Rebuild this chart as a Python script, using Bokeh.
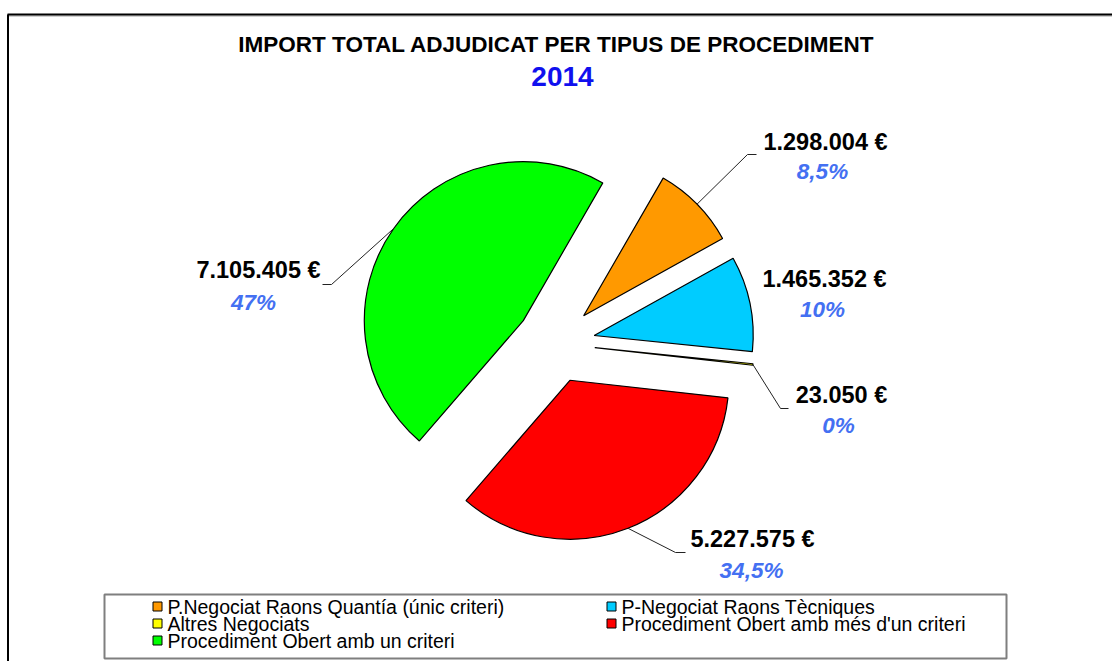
import numpy as np
from bokeh.plotting import figure
from bokeh.models import Range1d
from bokeh.core.properties import value
from bokeh.embed import file_html
from bokeh.resources import INLINE

# ---------------- data ----------------
categories = [
    "P.Negociat Raons Quantía (únic criteri)",
    "P-Negociat Raons Tècniques",
    "Altres Negociats",
    "Procediment Obert amb més d'un criteri",
    "Procediment Obert amb un criteri",
]
amounts = [1298004, 1465352, 23050, 5227575, 7105405]
amount_labels = ["1.298.004 €", "1.465.352 €", "23.050 €", "5.227.575 €", "7.105.405 €"]
pct_labels = ["8,5%", "10%", "0%", "34,5%", "47%"]
title_text = "IMPORT TOTAL ADJUDICAT PER TIPUS DE PROCEDIMENT"
year_text = "2014"

# ---------------- styles / layout ----------------
colors = ["#FF9900", "#00CCFF", "#FFFF00", "#FF0000", "#00FF00"]
FONT = "Liberation Sans"
PCT_BLUE = "#4470F2"
W, H = 1112, 661
CX, CY = 555.0, -343.0          # pie centre (screen y negated)
R = 159.0                       # radius in px
EXPLODE = 39.5                  # explosion distance
FIRST_ANGLE = 60.0              # start of first slice (deg, math convention)

# label centres (screen coords): amount text, percentage text
amt_pos = [(825, 141), (824, 278), (841, 394), (752, 538), (258, 269)]
pct_pos = [(822, 171), (822, 309), (838, 425), (751, 570), (253, 302)]
# leader elbows (screen coords) -> (elbow, end); None = no leader
leaders = [((747, 154), (756, 154)), None, ((780, 408), (788, 408)),
           ((675, 552), (685, 552)), ((331, 284), (322, 284))]

p = figure(width=W, height=H, x_range=Range1d(0, W), y_range=Range1d(-H, 0),
           output_backend="svg", toolbar_location=None, min_border=0,
           x_axis_type=None, y_axis_type=None)
p.grid.visible = False
p.outline_line_color = None
p.background_fill_color = "white"

# outer chart frame (top + left edges visible)
p.line(x=[7, W], y=[-15.5, -15.5], line_color="#A0A0A0", line_width=1)
p.line(x=[7, W], y=[-14, -14], line_color="black", line_width=2)
p.line(x=[7.5, 7.5], y=[-14, -H], line_color="black", line_width=2)

# ---------------- pie ----------------
vals = np.array(amounts, dtype=float)
frac = vals / vals.sum()
cum = np.concatenate([[0], np.cumsum(frac)[:-1]])
start_deg = FIRST_ANGLE - cum * 360.0          # clockwise
end_deg = start_deg - frac * 360.0
mid_deg = (start_deg + end_deg) / 2.0
mid = np.radians(mid_deg)
ax = CX + EXPLODE * np.cos(mid)
ay = CY + EXPLODE * np.sin(mid)

p.wedge(x=ax, y=ay, radius=R, start_angle=np.radians(end_deg), end_angle=np.radians(start_deg),
        fill_color=colors, line_color="black", line_width=1.2)

# leaders
for i, ld in enumerate(leaders):
    if ld is None:
        continue
    sx = ax[i] + R * np.cos(mid[i])
    sy = ay[i] + R * np.sin(mid[i])
    (ex, ey), (fx, fy) = ld
    p.line(x=[sx, ex, fx], y=[sy, -ey, -fy], line_color="#222222", line_width=1)

# labels
p.text(x=[q[0] for q in amt_pos], y=[-q[1] for q in amt_pos], text=amount_labels,
       text_font=value(FONT), text_font_size="23.5px", text_font_style="bold",
       text_color="black", text_align="center", text_baseline="middle")
p.text(x=[q[0] for q in pct_pos], y=[-q[1] for q in pct_pos], text=pct_labels,
       text_font=value(FONT), text_font_size="22.5px", text_font_style="bold italic",
       text_color=PCT_BLUE, text_align="center", text_baseline="middle")

# titles
p.text(x=[556], y=[-44], text=[title_text], text_font=value(FONT), text_font_size="22.5px",
       text_font_style="bold", text_color="black", text_align="center", text_baseline="middle")
p.text(x=[562], y=[-76], text=[year_text], text_font=value(FONT), text_font_size="28px",
       text_font_style="bold", text_color="#1010EE", text_align="center", text_baseline="middle")

# ---------------- legend ----------------
p.quad(left=[104], right=[1006], top=[-594], bottom=[-658], fill_color=None,
       line_color="#7F7F7F", line_width=2)
col_x = [157, 611]
row_y = [606, 623, 640]
lx = [col_x[i % 2] for i in range(len(categories))]
ly = [-row_y[i // 2] for i in range(len(categories))]
p.scatter(x=lx, y=ly, marker="square", size=9, fill_color=colors, line_color="black", line_width=1)
p.text(x=[v + 10 for v in lx], y=ly, text=categories, text_font=value(FONT),
       text_font_size="19.5px", text_color="black", text_align="left", text_baseline="middle")

open("out.html", "w").write(file_html(p, INLINE))
